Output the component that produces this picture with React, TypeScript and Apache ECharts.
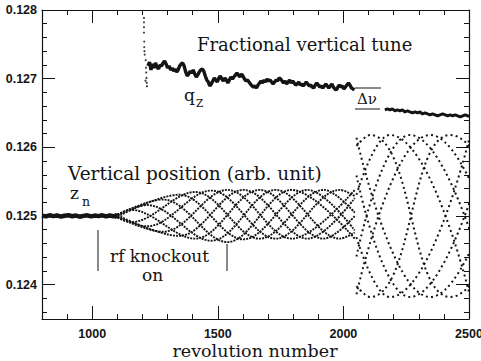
import React, { useEffect, useRef } from "react";
import * as echarts from "echarts";

// ---- axis ticks ----
const X_MAJOR = [1000, 1500, 2000, 2500];
const X_MINOR = [800, 900, 1000, 1100, 1200, 1300, 1400, 1500, 1600, 1700, 1800, 1900, 2000, 2100, 2200, 2300, 2400, 2500];
const Y_MAJOR = [0.124, 0.125, 0.126, 0.127, 0.128];
const Y_MINOR = [0.1236, 0.1238, 0.124, 0.1242, 0.1244, 0.1246, 0.1248, 0.125, 0.1252, 0.1254, 0.1256, 0.1258, 0.126, 0.1262, 0.1264, 0.1266, 0.1268, 0.127, 0.1272, 0.1274, 0.1276, 0.1278, 0.128];

// ---- fractional vertical tune q_z ----
const Q_START: [number, number][] = [
  [1206, 0.127884], [1206, 0.12782], [1206, 0.12775], [1206, 0.12767], [1207, 0.12754],
  [1207, 0.12746], [1208, 0.1274], [1209, 0.12735], [1213, 0.12727], [1214, 0.12716],
  [1215, 0.12709], [1216, 0.12701], [1217, 0.12694], [1218, 0.12689], [1212, 0.12697],
];
const Q_MAIN: [number, number][] = [
  [1222, 0.127185], [1228, 0.127243], [1234, 0.127127], [1240, 0.127214], [1246, 0.127156],
  [1252, 0.127229], [1258, 0.12717], [1264, 0.127141], [1270, 0.127199], [1276, 0.127185],
  [1282, 0.127229], [1288, 0.127258], [1294, 0.127214], [1300, 0.127156], [1306, 0.127185],
  [1312, 0.127127], [1318, 0.127156], [1324, 0.127112], [1330, 0.127141], [1336, 0.127098],
  [1342, 0.127127], [1348, 0.127185], [1354, 0.127214], [1360, 0.127229], [1366, 0.127185],
  [1372, 0.127098], [1378, 0.127039], [1384, 0.127068], [1390, 0.127112], [1396, 0.127083],
  [1402, 0.127127], [1408, 0.127068], [1414, 0.127025], [1420, 0.127054], [1426, 0.127098],
  [1432, 0.127127], [1438, 0.127141], [1444, 0.127112], [1450, 0.127039], [1456, 0.126981],
  [1462, 0.126952], [1468, 0.126894], [1474, 0.126923], [1480, 0.126967], [1486, 0.12701],
  [1492, 0.126981], [1498, 0.126952], [1504, 0.12701], [1510, 0.127039], [1516, 0.126996],
  [1522, 0.126967], [1528, 0.12701], [1534, 0.126981], [1540, 0.126937], [1546, 0.126981],
  [1552, 0.127025], [1558, 0.126996], [1564, 0.127025], [1570, 0.127054], [1576, 0.127083],
  [1582, 0.127054], [1588, 0.127025], [1594, 0.127068], [1600, 0.127039], [1606, 0.126996],
  [1612, 0.126967], [1618, 0.126981], [1624, 0.126952], [1630, 0.126923], [1636, 0.126894],
  [1642, 0.126879], [1648, 0.126894], [1654, 0.126865], [1660, 0.126908], [1666, 0.126937],
  [1672, 0.126967], [1678, 0.126937], [1684, 0.126981], [1690, 0.126952], [1696, 0.126996],
  [1702, 0.126967], [1708, 0.126981], [1714, 0.126952], [1720, 0.126923], [1726, 0.126952],
  [1732, 0.126981], [1738, 0.126967], [1744, 0.12701], [1750, 0.126996], [1756, 0.126967],
  [1762, 0.126937], [1768, 0.126967], [1774, 0.126923], [1780, 0.126952], [1786, 0.126981],
  [1792, 0.126937], [1798, 0.126967], [1804, 0.126937], [1810, 0.126908], [1816, 0.126923],
  [1822, 0.126952], [1828, 0.126908], [1834, 0.126923], [1840, 0.126894], [1846, 0.126923],
  [1852, 0.126952], [1858, 0.126923], [1864, 0.126894], [1870, 0.126908], [1876, 0.126879],
  [1882, 0.126865], [1888, 0.126908], [1894, 0.126937], [1900, 0.126908], [1906, 0.126879],
  [1912, 0.126894], [1918, 0.126865], [1924, 0.126894], [1930, 0.126923], [1936, 0.126894],
  [1942, 0.126865], [1948, 0.126894], [1954, 0.126923], [1960, 0.126879], [1966, 0.12685],
  [1972, 0.126836], [1978, 0.126879], [1984, 0.126908], [1990, 0.126879], [1996, 0.126894],
  [2002, 0.12685], [2008, 0.126879], [2014, 0.126908], [2020, 0.126937], [2026, 0.126908],
  [2032, 0.126865], [2038, 0.12685], [2044, 0.126836],
];
const Q_AFTER: [number, number][] = [
  [2165, 0.126545], [2175, 0.126559], [2185, 0.126545], [2195, 0.126559], [2205, 0.12653],
  [2215, 0.126545], [2225, 0.12653], [2235, 0.126545], [2245, 0.126515], [2255, 0.12653],
  [2265, 0.126515], [2275, 0.126501], [2285, 0.126515], [2295, 0.126501], [2305, 0.126515],
  [2315, 0.126486], [2325, 0.126501], [2335, 0.126486], [2345, 0.126472], [2355, 0.126486],
  [2365, 0.126472], [2375, 0.126457], [2385, 0.126472], [2395, 0.126486], [2405, 0.126472],
  [2415, 0.126457], [2425, 0.126472], [2435, 0.126457], [2445, 0.126472], [2455, 0.126457],
  [2465, 0.126443], [2475, 0.126457], [2485, 0.126472], [2495, 0.126457], [2500, 0.126457],
];

// ---- vertical position z_n ----
const Z_FLAT: [number, number][] = [
  [800, 0.125005], [815, 0.124995], [830, 0.12501], [845, 0.124998], [860, 0.125008],
  [875, 0.124992], [890, 0.125004], [905, 0.125012], [920, 0.124996], [935, 0.125006],
  [950, 0.12499], [965, 0.125002], [980, 0.12501], [995, 0.124994], [1010, 0.125006],
  [1025, 0.124998], [1040, 0.12501], [1055, 0.124995], [1070, 0.125008], [1085, 0.124997],
  [1100, 0.125004],
];
// strands (sub-sequences of every 8th turn) while rf knockout grows the oscillation
const Z_STRANDS_A: [number, number][][] = [
  [[1090, 0.12503], [1346, 0.12471], [1602, 0.12538], [1858, 0.12467], [2045, 0.12526]],
  [[1090, 0.125], [1154, 0.12509], [1410, 0.12467], [1666, 0.12538], [1922, 0.12467], [2045, 0.125]],
  [[1090, 0.125], [1218, 0.12516], [1474, 0.12464], [1730, 0.12538], [1986, 0.12467], [2045, 0.12476]],
  [[1090, 0.125], [1282, 0.12524], [1538, 0.12462], [1794, 0.12538], [2045, 0.12467]],
  [[1090, 0.12497], [1346, 0.12531], [1602, 0.12466], [1858, 0.12538], [2045, 0.12479]],
  [[1090, 0.125], [1154, 0.12491], [1410, 0.12535], [1666, 0.12467], [1922, 0.12538], [2045, 0.12505]],
  [[1090, 0.125], [1218, 0.12485], [1474, 0.12537], [1730, 0.12467], [1986, 0.12538], [2045, 0.12529]],
  [[1090, 0.125], [1282, 0.12477], [1538, 0.12538], [1794, 0.12467], [2045, 0.12538]],
];
// strands after the jump (larger amplitude)
const Z_STRANDS_B: [number, number][][] = [
  [[2052, 0.12614], [2345, 0.12382], [2665, 0.12618]],
  [[2052, 0.12602], [2105, 0.12618], [2425, 0.12382], [2745, 0.12618]],
  [[2052, 0.12531], [2185, 0.12618], [2505, 0.12382]],
  [[2052, 0.12441], [2265, 0.12618], [2585, 0.12382]],
  [[2052, 0.12386], [2345, 0.12618], [2665, 0.12382]],
  [[2052, 0.12398], [2105, 0.12382], [2425, 0.12618], [2745, 0.12382]],
  [[2052, 0.12469], [2185, 0.12382], [2505, 0.12618]],
  [[2052, 0.12559], [2265, 0.12382], [2585, 0.12618]],
];

const INK = "#141414";
const SERIF = '"DejaVu Serif", "Liberation Serif", serif';
const SANS = '"Liberation Sans", Arial, sans-serif';

export default function App() {
  const ref = useRef<HTMLDivElement>(null);
  useEffect(() => {
    document.body.style.margin = "0";
    if (!ref.current) return;
    const chart = echarts.init(ref.current, undefined, { renderer: "svg" });
    const axisLine = { show: true, lineStyle: { color: INK, width: 1.2 } };
    const xBase = { type: "value", min: 800, max: 2500, splitLine: { show: false }, gridIndex: 0 };
    const yBase = { type: "value", min: 0.1235, max: 0.128, splitLine: { show: false }, gridIndex: 0 };
    const tickStyle = { color: INK, width: 1 };

    const series: any[] = [];
    series.push({
      type: "line", data: Z_FLAT, showSymbol: false, silent: true,
      lineStyle: { color: INK, width: 4.5 }, xAxisIndex: 0, yAxisIndex: 0,
    });
    Z_STRANDS_A.forEach((s) =>
      series.push({
        type: "line", data: s, smooth: 0.35, showSymbol: false, silent: true,
        lineStyle: { color: INK, width: 1.9, type: [2, 1.1] }, xAxisIndex: 0, yAxisIndex: 0,
      })
    );
    Z_STRANDS_B.forEach((s) =>
      series.push({
        type: "line", data: s, smooth: true, showSymbol: false, silent: true, clip: true,
        lineStyle: { color: INK, width: 2, type: [2, 3.2] }, xAxisIndex: 0, yAxisIndex: 0,
      })
    );
    series.push({
      type: "scatter", data: Q_START, symbolSize: 2.2, silent: true,
      itemStyle: { color: INK }, xAxisIndex: 0, yAxisIndex: 0,
    });
    series.push({
      type: "line", data: Q_MAIN, showSymbol: false, silent: true,
      lineStyle: { color: INK, width: 3.4 }, xAxisIndex: 0, yAxisIndex: 0,
    });
    series.push({
      type: "line", data: Q_AFTER, showSymbol: false, silent: true,
      lineStyle: { color: INK, width: 3 }, xAxisIndex: 0, yAxisIndex: 0,
    });

    const labelStyle = { color: INK, fontSize: 12.5, fontFamily: SANS, fontWeight: "bold" };

    chart.setOption({
      animation: false,
      backgroundColor: "#ffffff",
      grid: { left: 42, right: 12, top: 10, bottom: 42, containLabel: false, outerBoundsMode: "none" },
      xAxis: [
        { ...xBase, position: "bottom", axisLine, axisTick: { inside: true, length: 5, lineStyle: tickStyle, customValues: X_MINOR }, axisLabel: { show: false } },
        { ...xBase, position: "bottom", axisLine: { show: false }, axisTick: { inside: true, length: 13, lineStyle: tickStyle, customValues: X_MAJOR },
          axisLabel: { show: true, customValues: X_MAJOR, margin: 8, ...labelStyle, formatter: (v: number) => String(v) } },
        { ...xBase, position: "top", axisLine, axisTick: { inside: true, length: 5, lineStyle: tickStyle, customValues: X_MINOR }, axisLabel: { show: false } },
        { ...xBase, position: "top", axisLine: { show: false }, axisTick: { inside: true, length: 13, lineStyle: tickStyle, customValues: X_MAJOR }, axisLabel: { show: false } },
      ],
      yAxis: [
        { ...yBase, position: "left", axisLine, axisTick: { inside: true, length: 5, lineStyle: tickStyle, customValues: Y_MINOR }, axisLabel: { show: false } },
        { ...yBase, position: "left", axisLine: { show: false }, axisTick: { inside: true, length: 13, lineStyle: tickStyle, customValues: Y_MAJOR },
          axisLabel: { show: true, customValues: Y_MAJOR, margin: 5, ...labelStyle, formatter: (v: number) => v.toFixed(3) } },
        { ...yBase, position: "right", axisLine, axisTick: { inside: true, length: 5, lineStyle: tickStyle, customValues: Y_MINOR }, axisLabel: { show: false } },
        { ...yBase, position: "right", axisLine: { show: false }, axisTick: { inside: true, length: 13, lineStyle: tickStyle, customValues: Y_MAJOR }, axisLabel: { show: false } },
      ],
      graphic: [
        { type: "text", x: 197, y: 44, style: { text: "Fractional vertical tune", font: `18px ${SERIF}`, fill: INK, textAlign: "left", textVerticalAlign: "middle" } },
        { type: "text", x: 68, y: 173, style: { text: "Vertical position (arb. unit)", font: `18.5px ${SERIF}`, fill: INK, textAlign: "left", textVerticalAlign: "middle" } },
        { type: "text", x: 184, y: 95, style: { text: "q", font: `17px ${SERIF}`, fill: INK, textAlign: "left", textVerticalAlign: "middle" } },
        { type: "text", x: 196, y: 103, style: { text: "Z", font: `10.5px ${SERIF}`, fill: INK, textAlign: "left", textVerticalAlign: "middle" } },
        { type: "text", x: 70, y: 193, style: { text: "z", font: `17px ${SERIF}`, fill: INK, textAlign: "left", textVerticalAlign: "middle" } },
        { type: "text", x: 82, y: 201, style: { text: "n", font: `12.5px ${SERIF}`, fill: INK, textAlign: "left", textVerticalAlign: "middle" } },
        { type: "text", x: 357, y: 99, style: { text: "Δν", font: `15px ${SERIF}`, fill: INK, textAlign: "left", textVerticalAlign: "middle" } },
        { type: "line", shape: { x1: 355, y1: 88, x2: 381, y2: 88 }, style: { stroke: INK, lineWidth: 1 } },
        { type: "line", shape: { x1: 355, y1: 109, x2: 380, y2: 109 }, style: { stroke: INK, lineWidth: 1 } },
        { type: "text", x: 110, y: 256, style: { text: "rf knockout", font: `17px ${SERIF}`, fill: INK, textAlign: "left", textVerticalAlign: "middle" } },
        { type: "text", x: 142, y: 275, style: { text: "on", font: `17px ${SERIF}`, fill: INK, textAlign: "left", textVerticalAlign: "middle" } },
        { type: "line", shape: { x1: 98, y1: 230, x2: 98, y2: 271 }, style: { stroke: INK, lineWidth: 1 } },
        { type: "line", shape: { x1: 227, y1: 244, x2: 227, y2: 271 }, style: { stroke: INK, lineWidth: 1 } },
        { type: "text", x: 255, y: 351, style: { text: "revolution number", font: `17.5px ${SERIF}`, fill: INK, textAlign: "center", textVerticalAlign: "middle" } },
      ],
      series,
    });
    return () => chart.dispose();
  }, []);
  return <div ref={ref} style={{ width: 481, height: 361 }} />;
}
